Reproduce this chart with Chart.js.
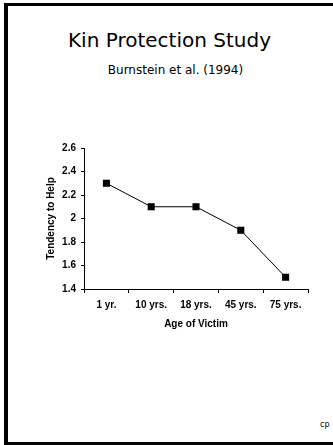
<!DOCTYPE html>
<html>
<head>
<meta charset="utf-8">
<script src="https://cdn.jsdelivr.net/npm/chart.js@4/dist/chart.umd.min.js"></script>
<style>
  html, body { margin: 0; padding: 0; background: #fff; overflow: hidden; }
  #slide { position: relative; width: 333px; height: 445px; overflow: hidden; background: #fff; }
  #marco {
    position: absolute; left: 4px; top: 3px; width: 325px; height: 436px;
    border-left: 4px solid #000; border-top: 3px solid #000; border-bottom: 3px solid #000;
  }
  .titulo { position: absolute; left: 0; width: 333px; text-align: center; color: #000; font-family: "DejaVu Sans", sans-serif; white-space: nowrap; }
  #t1 { top: 30px; font-size: 20px; line-height: 20px; padding-left: 3px; }
  #t2 { top: 64px; font-size: 12px; line-height: 12px; padding-left: 9px; }
  #cp { position: absolute; left: 320px; top: 421px; font-family: "DejaVu Sans", sans-serif; font-size: 8px; line-height: 8px; color: #000; }
  #grafico { position: absolute; left: 0; top: 0; }
</style>
</head>
<body>
<div id="slide">
  <div id="marco"></div>
  <div class="titulo" id="t1">Kin Protection Study</div>
  <div class="titulo" id="t2">Burnstein et al. (1994)</div>
  <div id="cp">cp</div>
  <canvas id="grafico" width="333" height="445"></canvas>
</div>

<script>
// idade da vítima e tendência a ajudar
const idades = ['1 yr.', '10 yrs.', '18 yrs.', '45 yrs.', '75 yrs.']
const tendencia = [2.3, 2.1, 2.1, 1.9, 1.5]

const eixoY = { min: 1.4, max: 2.6, passo: 0.2 }

const fonteEixo = { family: 'Liberation Sans, Arial, sans-serif', size: 10, weight: 'bold' }

const ctx = document.getElementById('grafico')

const dadosGrafico = {
    labels: idades,
    datasets: [{
        label: 'Tendency to Help',
        data: tendencia,
        borderColor: '#000',
        borderWidth: 1,
        backgroundColor: '#000',
        pointStyle: 'rect',
        pointRadius: 5,
        pointBackgroundColor: '#000',
        pointBorderColor: '#000',
        pointBorderWidth: 0,
        tension: 0,
        fill: false
    }]
}

const configGrafico = {
    type: 'line',
    data: dadosGrafico,
    options: {
        responsive: false,
        animation: false,
        devicePixelRatio: 1,
        layout: {
            padding: { left: 40, right: 25, top: 148, bottom: 111 }
        },
        plugins: {
            legend: { display: false },
            tooltip: { enabled: false }
        },
        scales: {
            x: {
                offset: true,
                grid: {
                    offset: true,
                    drawOnChartArea: false, // só as marquinhas do eixo
                    tickLength: 4,
                    color: '#000'
                },
                border: { color: '#000', width: 1 },
                ticks: { color: '#000', font: fonteEixo, padding: 6, maxRotation: 0 },
                title: {
                    display: true,
                    text: 'Age of Victim',
                    color: '#000',
                    font: fonteEixo,
                    padding: { top: 0, bottom: 4 }
                },
                afterFit: function (escala) { escala.height = 45 }
            },
            y: {
                min: eixoY.min,
                max: eixoY.max,
                grid: {
                    drawOnChartArea: false,
                    tickLength: 3,
                    color: '#000'
                },
                border: { color: '#000', width: 1 },
                ticks: {
                    stepSize: eixoY.passo,
                    color: '#000',
                    font: fonteEixo,
                    padding: 5,
                    callback: function (v) { return String(parseFloat(v.toFixed(1))) }
                },
                title: {
                    display: true,
                    text: 'Tendency to Help',
                    color: '#000',
                    font: fonteEixo,
                    padding: { top: 5, bottom: 0 }
                },
                afterFit: function (escala) { escala.width = 44 }
            }
        }
    }
}

new Chart(ctx, configGrafico)
</script>
</body>
</html>
